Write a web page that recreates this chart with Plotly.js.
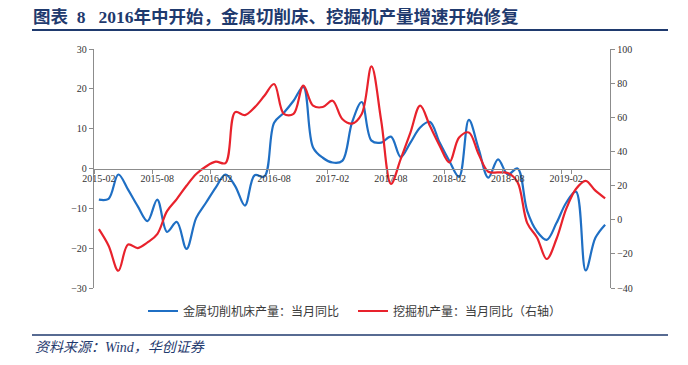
<!DOCTYPE html>
<html>
<head>
<meta charset="utf-8">
<script src="https://cdn.plot.ly/plotly-3.0.1.min.js"></script>
<style>html,body{margin:0;padding:0;background:#fff;}#chart{width:688px;height:365px;}</style>
</head>
<body>
<div id="chart"></div>
<script>
var months = ["2015-02","2015-03","2015-04","2015-05","2015-06","2015-07","2015-08","2015-09","2015-10","2015-11","2015-12","2016-01",
"2016-02","2016-03","2016-04","2016-05","2016-06","2016-07","2016-08","2016-09","2016-10","2016-11","2016-12","2017-01",
"2017-02","2017-03","2017-04","2017-05","2017-06","2017-07","2017-08","2017-09","2017-10","2017-11","2017-12","2018-01",
"2018-02","2018-03","2018-04","2018-05","2018-06","2018-07","2018-08","2018-09","2018-10","2018-11","2018-12","2019-01",
"2019-02","2019-03","2019-04","2019-05","2019-06"];
var tickLabels = ["2015-02","2015-08","2016-02","2016-08","2017-02","2017-08","2018-02","2018-08","2019-02"];
var machineTool = [-7.8,-7.6,-1.5,-5.3,-9.5,-13.2,-7.8,-15.9,-13.4,-20.2,-12.4,-8.6,
-4.8,-1.5,-4.4,-9.3,-1.7,-2.0,11.5,14.0,17.0,20.5,5.3,2.7,
1.5,1.9,11.5,16.7,7.0,6.5,8.0,2.9,6.5,10.3,11.7,6.5,
1.9,-2.1,12.2,5.0,-2.3,2.3,-1.5,0.0,-10.7,-15.8,-17.9,-13.7,
-8.6,-5.8,-25.6,-17.4,-14.1];
var excavator = [-5.5,-15.2,-29.9,-14.5,-16.6,-13.3,-8.4,5.0,12.1,19.9,26.8,31.2,
34.0,33.2,63.0,61.3,65.8,72.6,79.5,62.0,62.0,78.5,66.8,66.0,
69.7,59.0,56.3,61.9,89.8,58.0,21.0,35.5,51.0,66.8,55.0,43.4,
33.6,48.2,51.1,38.5,28.1,27.7,27.4,22.0,-2.0,-10.4,-23.0,-11.3,
6.3,18.0,22.8,17.0,12.5];
var name1 = "金属切削机床产量：当月同比";
var name2 = "挖掘机产量：当月同比（右轴）";
var titleText = "图表\u00a0\u00a08\u00a0\u00a0\u00a02016年中开始，金属切削床、挖掘机产量增速开始修复";
var sourceText = "资料来源：Wind，华创证券";

var navy = "#1f3a6e";
var axisColor = "#8c8c8c";
var tickFont = {family: "Liberation Serif, Times New Roman, serif", size: 10, color: "#333"};

function px2x(p) { return (p - 94) / 516; }
function px2y(p) { return (288 - p) / 239; }

var traces = [
  {x: months, y: machineTool, name: name1, type: "scatter", mode: "lines",
   line: {color: "#1f6fc4", width: 2.2, shape: "spline", smoothing: 1}, yaxis: "y"},
  {x: months, y: excavator, name: name2, type: "scatter", mode: "lines",
   line: {color: "#e8222c", width: 2.2, shape: "spline", smoothing: 1}, yaxis: "y2"}
];

var layout = {
  width: 688, height: 365,
  margin: {l: 94, r: 78, t: 49, b: 77, pad: 0},
  paper_bgcolor: "#fff", plot_bgcolor: "#fff",
  showlegend: true,
  title: {text: titleText, xref: "container", yref: "container", x: 33/688, xanchor: "left",
          y: 1 - 16.5/365, yanchor: "middle",
          font: {family: "Liberation Serif, Noto Sans CJK SC, serif", size: 17.5, color: navy, weight: "bold"}},
  xaxis: {type: "category", categoryorder: "array", categoryarray: months,
          range: [-0.5, months.length - 0.5], tickmode: "array", tickvals: tickLabels, ticktext: tickLabels,
          tickangle: 0, tickson: "boundaries", ticks: "outside", ticklen: 4, tickcolor: axisColor,
          showline: true, linecolor: axisColor, linewidth: 1.2, showgrid: false, zeroline: false,
          anchor: "free", position: 0.5, tickfont: tickFont, fixedrange: true},
  yaxis: {range: [-30, 30], dtick: 10, tick0: 0, ticks: "outside", ticklen: 4, tickcolor: axisColor,
          showline: true, linecolor: axisColor, linewidth: 1.2, showgrid: false, zeroline: false,
          tickfont: tickFont, fixedrange: true},
  yaxis2: {range: [-40, 100], dtick: 20, tick0: 0, overlaying: "y", side: "right", ticks: "outside", ticklen: 4,
           tickcolor: axisColor, showline: true, linecolor: axisColor, linewidth: 1.2, showgrid: false,
           zeroline: false, tickfont: tickFont, fixedrange: true},
  legend: {orientation: "h", x: px2x(143), xanchor: "left", y: px2y(311), yanchor: "middle",
           font: {family: "Noto Sans CJK SC, sans-serif", size: 12, color: "#3a3a3a"},
           entrywidth: 165, entrywidthmode: "pixels", bgcolor: "rgba(0,0,0,0)", traceorder: "normal"},
  shapes: [
    {type: "line", xref: "paper", yref: "paper", x0: px2x(32), x1: px2x(668),
     y0: px2y(30), y1: px2y(30), line: {color: navy, width: 2}},
    {type: "line", xref: "paper", yref: "paper", x0: px2x(32), x1: px2x(668),
     y0: px2y(335), y1: px2y(335), line: {color: navy, width: 1.5}}
  ],
  annotations: [
    {text: sourceText, xref: "paper", yref: "paper", x: px2x(33), y: px2y(347),
     xanchor: "left", yanchor: "middle", showarrow: false,
     font: {family: "Liberation Serif, Noto Sans CJK SC, serif", size: 14, color: navy, style: "italic"}}
  ]
};

Plotly.newPlot("chart", traces, layout, {displayModeBar: false, staticPlot: true});
</script>
</body>
</html>
